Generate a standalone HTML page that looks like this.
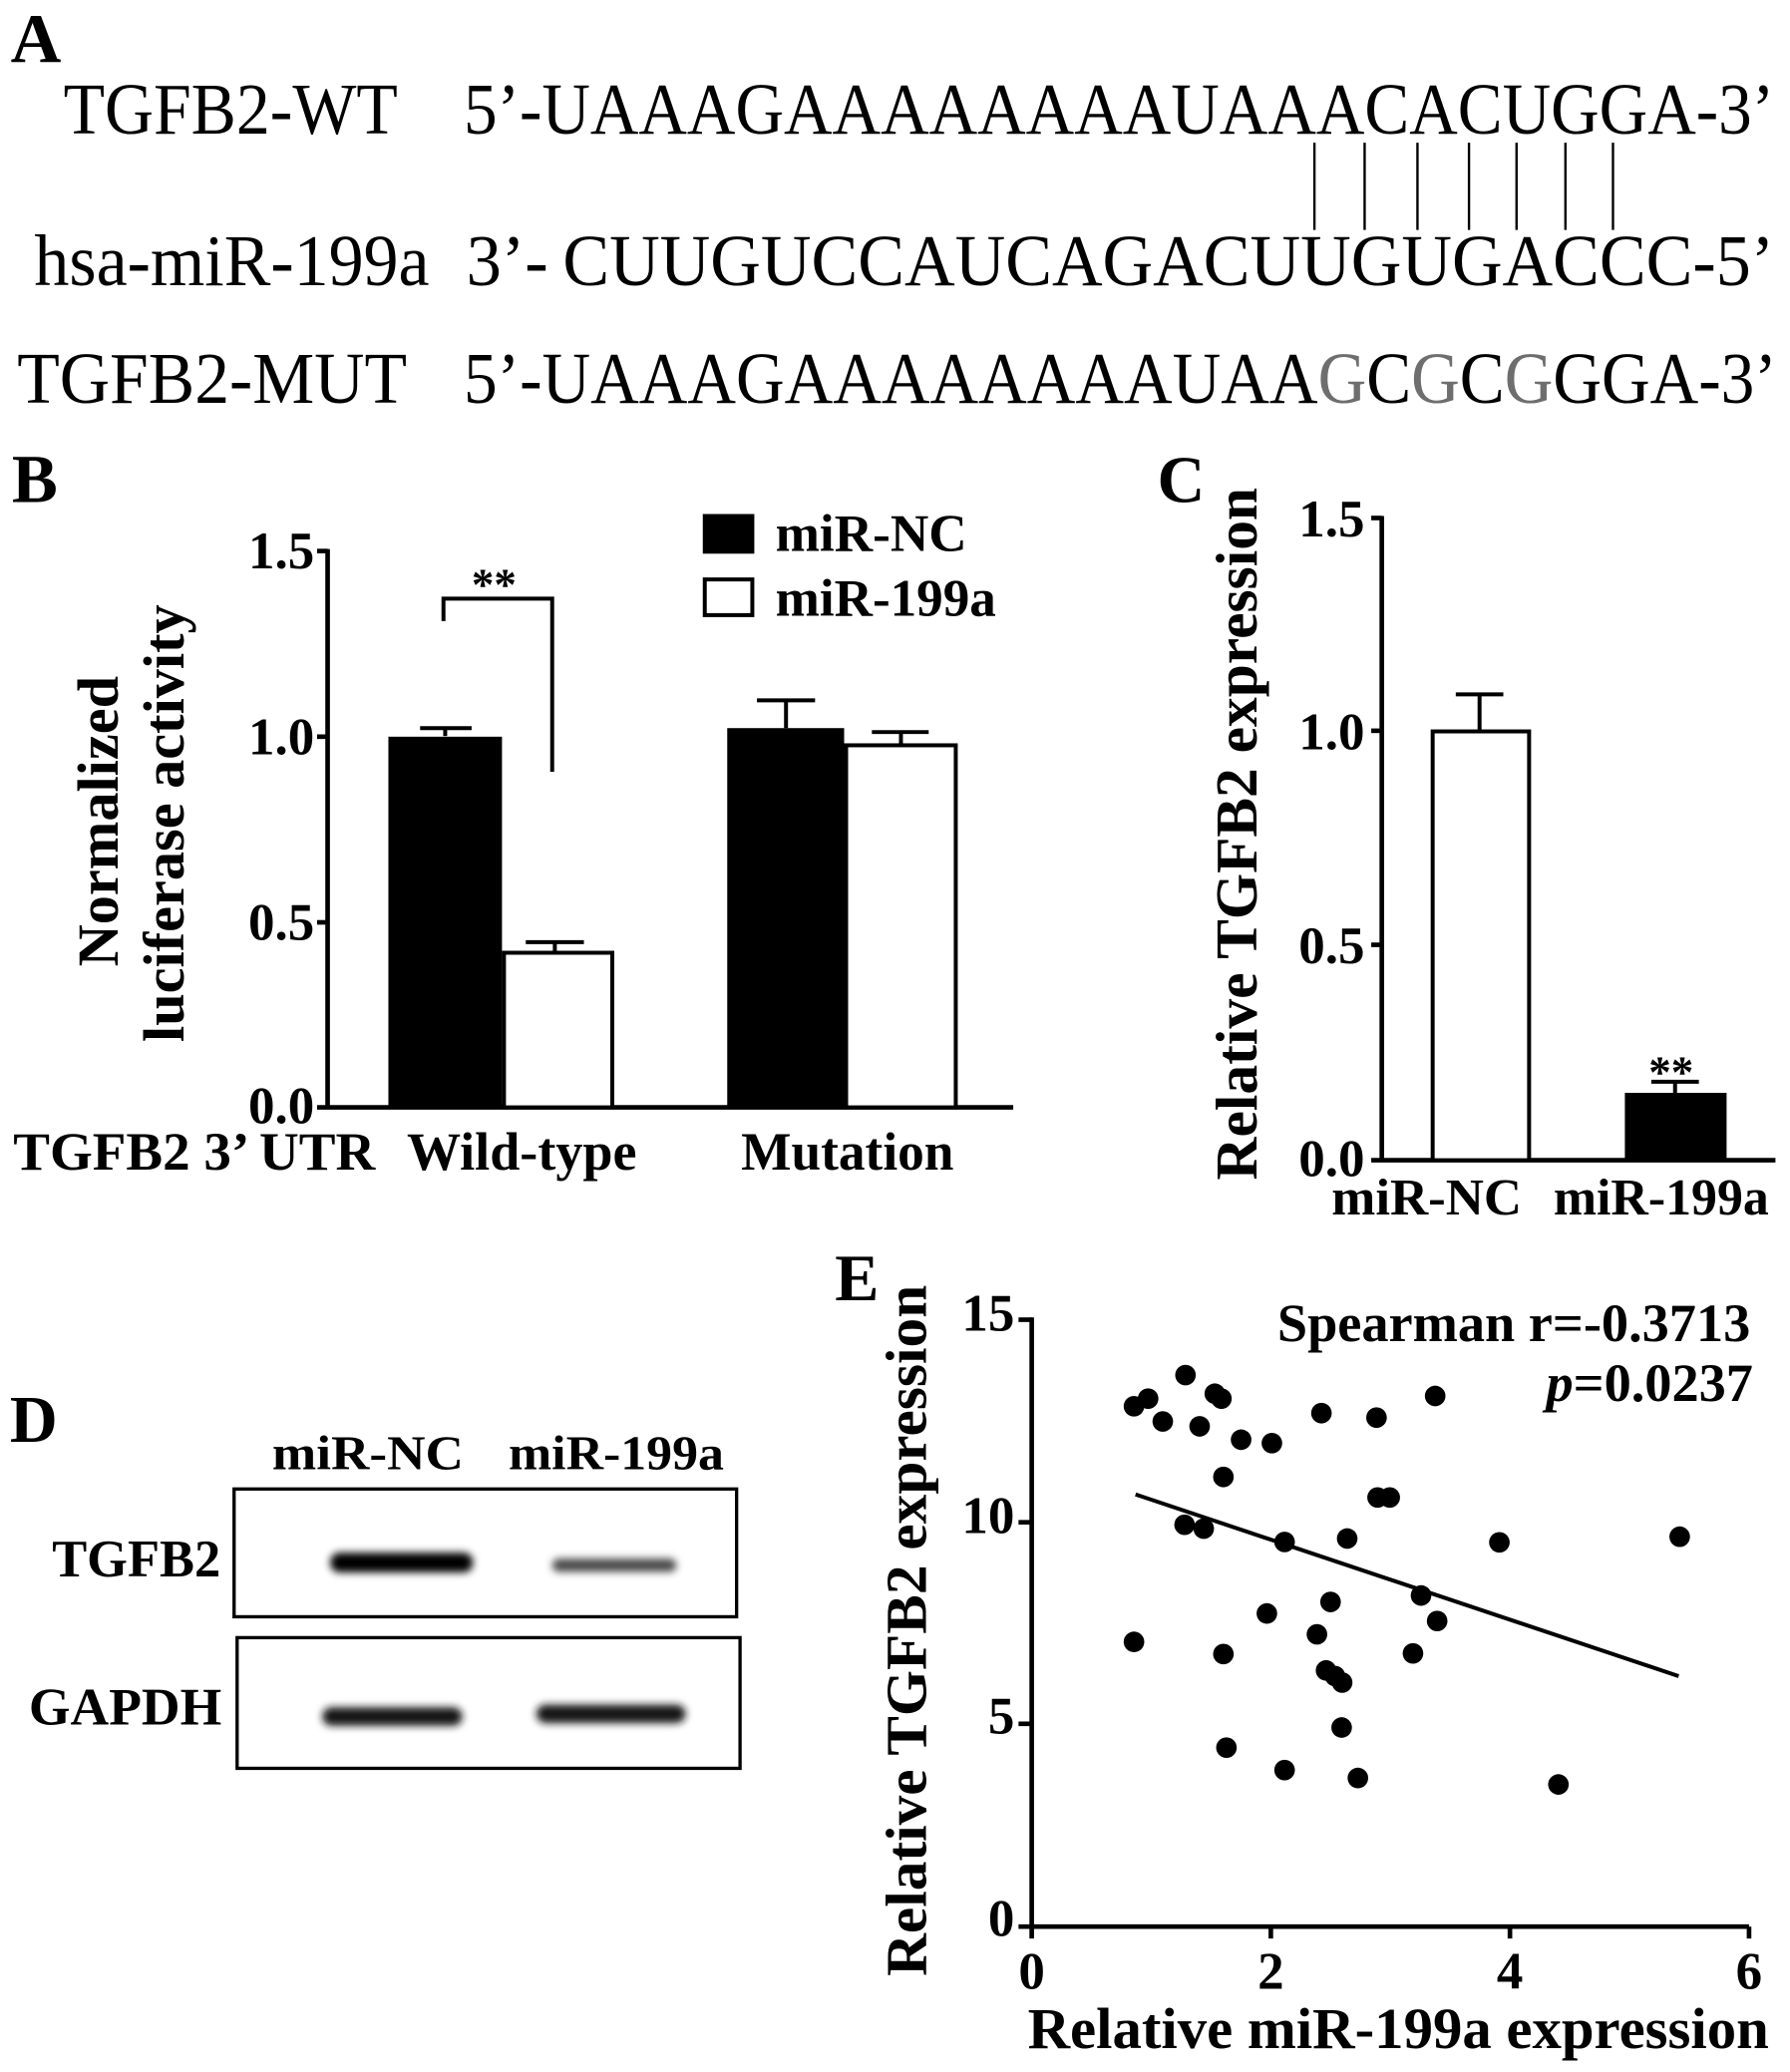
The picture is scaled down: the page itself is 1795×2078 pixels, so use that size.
<!DOCTYPE html>
<html>
<head>
<meta charset="utf-8">
<style>
html,body{margin:0;padding:0;background:#fff;}
svg{display:block;}
text{font-family:"Liberation Serif","Times New Roman",serif;fill:#000;}
.b{font-weight:bold;}
</style>
</head>
<body>
<svg width="1795" height="2078" viewBox="0 0 1355 1568" preserveAspectRatio="none" xmlns="http://www.w3.org/2000/svg">
<defs>
<filter id="bl" x="-20%" y="-80%" width="140%" height="260%"><feGaussianBlur stdDeviation="3"/></filter>
</defs>
<rect x="0" y="0" width="1355" height="1568" fill="#fff"/>

<!-- Panel A -->
<text class="b" font-weight="bold" x="8" y="47" font-size="53">A</text>
<text x="48" y="101" font-size="55" textLength="253" lengthAdjust="spacingAndGlyphs">TGFB2-WT</text>
<text x="351" y="101" font-size="55" textLength="992" lengthAdjust="spacingAndGlyphs">5’-UAAAGAAAAAAAAUAAACACUGGA-3’</text>
<g stroke="#000" stroke-width="1.8">
<line x1="995" y1="108" x2="995" y2="174"/>
<line x1="1033" y1="108" x2="1033" y2="174"/>
<line x1="1073" y1="108" x2="1073" y2="174"/>
<line x1="1112" y1="108" x2="1112" y2="174"/>
<line x1="1148" y1="108" x2="1148" y2="174"/>
<line x1="1185" y1="108" x2="1185" y2="174"/>
<line x1="1221" y1="108" x2="1221" y2="174"/>
</g>
<text x="26" y="216" font-size="55" textLength="299" lengthAdjust="spacingAndGlyphs">hsa-miR-199a</text>
<text x="353" y="216" font-size="55" textLength="62" lengthAdjust="spacingAndGlyphs">3’-</text>
<text x="426" y="216" font-size="55" textLength="917" lengthAdjust="spacingAndGlyphs">CUUGUCCAUCAGACUUGUGACCC-5’</text>
<text x="13" y="305" font-size="55" textLength="295" lengthAdjust="spacingAndGlyphs">TGFB2-MUT</text>
<text x="351" y="305" font-size="55" textLength="994" lengthAdjust="spacingAndGlyphs">5’-UAAAGAAAAAAAAUAA<tspan fill="#6e6e6e">G</tspan>C<tspan fill="#6e6e6e">G</tspan>C<tspan fill="#6e6e6e">G</tspan>GGA-3’</text>

<!-- Panel B -->
<text class="b" font-weight="bold" x="9" y="380" font-size="52">B</text>
<g stroke="#000" stroke-width="3.5" fill="none">
<line x1="248" y1="415.5" x2="248" y2="839.5"/>
<line x1="240" y1="417" x2="248" y2="417"/>
<line x1="240" y1="557.5" x2="248" y2="557.5"/>
<line x1="240" y1="698" x2="248" y2="698"/>
<line x1="240" y1="838" x2="767" y2="838"/>
</g>
<g font-weight="bold" font-size="40" text-anchor="end">
<text class="b" font-weight="bold" x="238" y="430">1.5</text>
<text class="b" font-weight="bold" x="238" y="571">1.0</text>
<text class="b" font-weight="bold" x="238" y="711">0.5</text>
<text class="b" font-weight="bold" x="238" y="850">0.0</text>
</g>
<rect x="294" y="557.5" width="86" height="280.5" fill="#000"/>
<rect x="381.5" y="721" width="82" height="117" fill="#fff" stroke="#000" stroke-width="3"/>
<rect x="550.5" y="551" width="88.5" height="287" fill="#000"/>
<rect x="640.5" y="564" width="83" height="274" fill="#fff" stroke="#000" stroke-width="3"/>
<g stroke="#000" stroke-width="3" fill="none">
<line x1="337" y1="557" x2="337" y2="551"/><line x1="318" y1="551" x2="357" y2="551"/>
<line x1="420" y1="721" x2="420" y2="713"/><line x1="398" y1="713" x2="442" y2="713"/>
<line x1="595" y1="551" x2="595" y2="530"/><line x1="573" y1="530" x2="617" y2="530"/>
<line x1="682" y1="564" x2="682" y2="554"/><line x1="660" y1="554" x2="703" y2="554"/>
<path d="M335.7 470 V453 H418 V584"/>
</g>
<text class="b" font-weight="bold" x="374" y="454" font-size="34" text-anchor="middle">**</text>
<rect x="532" y="389" width="39" height="30" fill="#000"/>
<rect x="533.5" y="438.5" width="36" height="27" fill="#fff" stroke="#000" stroke-width="3"/>
<text class="b" font-weight="bold" x="587" y="417" font-size="40" textLength="145" lengthAdjust="spacingAndGlyphs">miR-NC</text>
<text class="b" font-weight="bold" x="587" y="466" font-size="40" textLength="167" lengthAdjust="spacingAndGlyphs">miR-199a</text>
<text class="b" font-weight="bold" transform="translate(89,621.5) rotate(-90)" font-size="44" text-anchor="middle">Normalized</text>
<text class="b" font-weight="bold" transform="translate(139,623) rotate(-90)" font-size="44" text-anchor="middle">luciferase activity</text>
<text class="b" font-weight="bold" x="10" y="885" font-size="41" textLength="274" lengthAdjust="spacingAndGlyphs">TGFB2 3’ UTR</text>
<text class="b" font-weight="bold" x="308" y="885" font-size="41" textLength="174" lengthAdjust="spacingAndGlyphs">Wild-type</text>
<text class="b" font-weight="bold" x="561" y="885" font-size="41" textLength="161" lengthAdjust="spacingAndGlyphs">Mutation</text>

<!-- Panel C -->
<text class="b" font-weight="bold" x="876" y="380" font-size="50">C</text>
<g stroke="#000" stroke-width="3.5" fill="none">
<line x1="1046" y1="390.5" x2="1046" y2="879.5"/>
<line x1="1038" y1="392" x2="1046" y2="392"/>
<line x1="1038" y1="553" x2="1046" y2="553"/>
<line x1="1038" y1="715" x2="1046" y2="715"/>
<line x1="1038" y1="878" x2="1344" y2="878"/>
</g>
<text class="b" font-weight="bold" x="1033" y="406" font-size="40" text-anchor="end">1.5</text>
<text class="b" font-weight="bold" x="1033" y="567" font-size="40" text-anchor="end">1.0</text>
<text class="b" font-weight="bold" x="1033" y="729" font-size="40" text-anchor="end">0.5</text>
<text class="b" font-weight="bold" x="1033" y="890" font-size="40" text-anchor="end">0.0</text>
<rect x="1084.5" y="553.5" width="73" height="324.5" fill="#fff" stroke="#000" stroke-width="3"/>
<rect x="1230" y="827" width="77" height="51" fill="#000"/>
<g stroke="#000" stroke-width="3">
<line x1="1120" y1="553" x2="1120" y2="525.5"/><line x1="1102" y1="525.5" x2="1138" y2="525.5"/>
<line x1="1268" y1="827" x2="1268" y2="818.6"/><line x1="1250" y1="818.6" x2="1286" y2="818.6"/>
</g>
<text class="b" font-weight="bold" x="1265" y="823" font-size="34" text-anchor="middle">**</text>
<text class="b" font-weight="bold" transform="translate(951,631) rotate(-90)" font-size="45" text-anchor="middle" textLength="524" lengthAdjust="spacingAndGlyphs">Relative TGFB2 expression</text>
<text class="b" font-weight="bold" x="1008" y="919" font-size="39" textLength="144" lengthAdjust="spacingAndGlyphs">miR-NC</text>
<text class="b" font-weight="bold" x="1176" y="919" font-size="39" textLength="163" lengthAdjust="spacingAndGlyphs">miR-199a</text>

<!-- Panel D -->
<text class="b" font-weight="bold" x="7.5" y="1091" font-size="50">D</text>
<text class="b" font-weight="bold" x="206" y="1112" font-size="37" textLength="145" lengthAdjust="spacingAndGlyphs">miR-NC</text>
<text class="b" font-weight="bold" x="385" y="1112" font-size="37" textLength="163" lengthAdjust="spacingAndGlyphs">miR-199a</text>
<rect x="177.2" y="1126.8" width="380.4" height="96.7" fill="#fff" stroke="#000" stroke-width="2.5"/>
<rect x="179.5" y="1239.3" width="380.7" height="98.9" fill="#fff" stroke="#000" stroke-width="2.5"/>
<text class="b" font-weight="bold" x="39.4" y="1193" font-size="40" textLength="127.6" lengthAdjust="spacingAndGlyphs">TGFB2</text>
<text class="b" font-weight="bold" x="21.8" y="1305" font-size="40" textLength="146" lengthAdjust="spacingAndGlyphs">GAPDH</text>
<g filter="url(#bl)">
<rect x="250" y="1175" width="108" height="15" rx="7" fill="#050505"/>
<rect x="418" y="1179.5" width="94" height="10" rx="5" fill="#4a4a4a"/>
<rect x="244" y="1292" width="106" height="14" rx="7" fill="#141414"/>
<rect x="406" y="1290" width="113" height="14" rx="7" fill="#141414"/>
</g>

<!-- Panel E -->
<text class="b" font-weight="bold" x="632" y="984" font-size="50">E</text>
<g stroke="#000" stroke-width="3.5" fill="none">
<line x1="781" y1="997" x2="781" y2="1459.5"/>
<line x1="771" y1="998.7" x2="781" y2="998.7"/>
<line x1="771" y1="1152" x2="781" y2="1152"/>
<line x1="771" y1="1304.5" x2="781" y2="1304.5"/>
<line x1="771" y1="1458" x2="1324" y2="1458"/>
<line x1="781" y1="1458" x2="781" y2="1467"/>
<line x1="962" y1="1458" x2="962" y2="1467"/>
<line x1="1143" y1="1458" x2="1143" y2="1467"/>
<line x1="1324" y1="1458" x2="1324" y2="1467"/>
</g>
<text class="b" font-weight="bold" x="768" y="1007" font-size="40" text-anchor="end">15</text>
<text class="b" font-weight="bold" x="768" y="1160" font-size="40" text-anchor="end">10</text>
<text class="b" font-weight="bold" x="768" y="1312" font-size="40" text-anchor="end">5</text>
<text class="b" font-weight="bold" x="768" y="1465" font-size="40" text-anchor="end">0</text>
<text class="b" font-weight="bold" x="781" y="1505" font-size="40" text-anchor="middle">0</text>
<text class="b" font-weight="bold" x="962" y="1505" font-size="40" text-anchor="middle">2</text>
<text class="b" font-weight="bold" x="1143" y="1505" font-size="40" text-anchor="middle">4</text>
<text class="b" font-weight="bold" x="1324" y="1505" font-size="40" text-anchor="middle">6</text>
<text class="b" font-weight="bold" x="778" y="1550" font-size="44" textLength="561" lengthAdjust="spacingAndGlyphs">Relative miR-199a expression</text>
<text class="b" font-weight="bold" transform="translate(701,1234) rotate(-90)" font-size="44" text-anchor="middle" textLength="523" lengthAdjust="spacingAndGlyphs">Relative TGFB2 expression</text>
<text class="b" font-weight="bold" x="1325" y="1015" font-size="41" text-anchor="end">Spearman r=-0.3713</text>
<text class="b" font-weight="bold" x="1327" y="1060" font-size="41" text-anchor="end"><tspan font-style="italic">p</tspan>=0.0237</text>
<line x1="859.6" y1="1130.9" x2="1270.7" y2="1268.4" stroke="#000" stroke-width="3"/>
<g fill="#000">
<circle cx="858.4" cy="1064.2" r="7.8"/>
<circle cx="869.1" cy="1058.4" r="7.8"/>
<circle cx="897.4" cy="1040.6" r="7.8"/>
<circle cx="919.6" cy="1054.7" r="7.8"/>
<circle cx="924.6" cy="1058.4" r="7.8"/>
<circle cx="880.2" cy="1075.7" r="7.8"/>
<circle cx="908.1" cy="1079.4" r="7.8"/>
<circle cx="939.5" cy="1089.5" r="7.8"/>
<circle cx="962.8" cy="1092.1" r="7.8"/>
<circle cx="1000.3" cy="1069.4" r="7.8"/>
<circle cx="1042.0" cy="1072.8" r="7.8"/>
<circle cx="1086.4" cy="1056.4" r="7.8"/>
<circle cx="926.1" cy="1117.7" r="7.8"/>
<circle cx="1042.8" cy="1133.2" r="7.8"/>
<circle cx="1052.0" cy="1133.2" r="7.8"/>
<circle cx="896.7" cy="1153.9" r="7.8"/>
<circle cx="911.2" cy="1156.8" r="7.8"/>
<circle cx="972.4" cy="1166.9" r="7.8"/>
<circle cx="1019.8" cy="1164.3" r="7.8"/>
<circle cx="1135.0" cy="1167.2" r="7.8"/>
<circle cx="1271.5" cy="1162.9" r="7.8"/>
<circle cx="1075.7" cy="1207.4" r="7.8"/>
<circle cx="1087.9" cy="1226.7" r="7.8"/>
<circle cx="1007.2" cy="1212.3" r="7.8"/>
<circle cx="959.0" cy="1221.0" r="7.8"/>
<circle cx="996.9" cy="1236.8" r="7.8"/>
<circle cx="858.4" cy="1242.5" r="7.8"/>
<circle cx="926.1" cy="1251.7" r="7.8"/>
<circle cx="1069.6" cy="1251.2" r="7.8"/>
<circle cx="1003.8" cy="1264.1" r="7.8"/>
<circle cx="1010.6" cy="1268.4" r="7.8"/>
<circle cx="1016.0" cy="1273.3" r="7.8"/>
<circle cx="1015.6" cy="1307.3" r="7.8"/>
<circle cx="928.4" cy="1322.5" r="7.8"/>
<circle cx="972.4" cy="1339.5" r="7.8"/>
<circle cx="1027.9" cy="1345.5" r="7.8"/>
<circle cx="1179.7" cy="1350.4" r="7.8"/>
</g>
</svg>
</body>
</html>
